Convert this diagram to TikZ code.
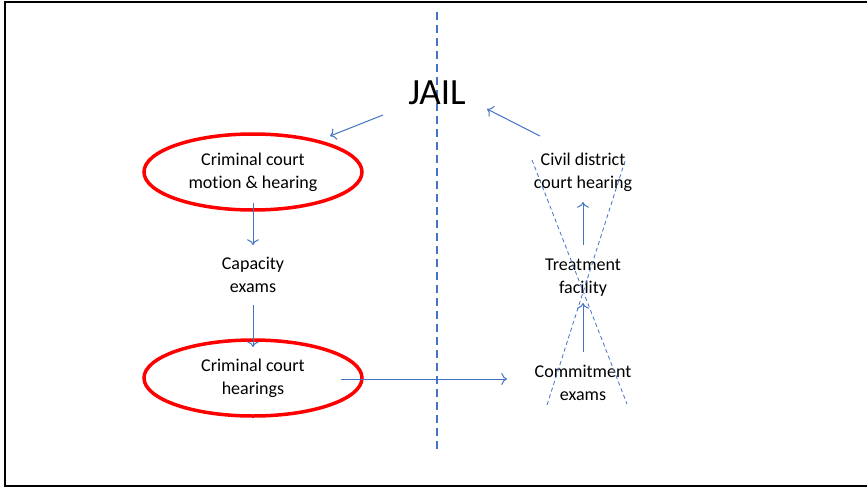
\documentclass[tikz,border=0pt]{standalone}
\usepackage{fontspec}
\setmainfont{Carlito}[Ligatures=NoCommon]
\usepackage{tikz}
\tikzset{x=1pt,y=-1pt}
\usetikzlibrary{arrows.meta, calc, shapes.geometric}
\definecolor{linkblue}{HTML}{4472C4}
\tikzset{
  step text/.style={align=center, inner sep=0pt, font=\fontsize{18}{23}\selectfont},
  court oval/.style={ellipse, draw=red, line width=3.5pt, minimum width=218, minimum height=76, inner sep=0pt},
  flow/.style={linkblue, line width=1pt, -{To[scale=1.5]}},
}

\begin{document}
\begin{tikzpicture}
    \useasboundingbox (0,0) rectangle (867,490);
    % frame
    \draw[line width=2.5pt] (867,2) -- (5,2) -- (5,486) -- (867,486);
    % divider
    \coordinate (top) at (437,12);
    \coordinate (bottom) at (437,450);
    \draw[linkblue, line width=2pt, dash pattern=on 8pt off 5pt] (top) -- (bottom);
    % jail
    \node (jail) at (437,93) {\fontsize{37}{40}\selectfont JAIL};
    % left column
    \node[court oval, step text] (motion) at (253,172) {Criminal court\\motion \& hearing};
    \node[step text] (capacity) at (253,275) {Capacity\\exams};
    \node[court oval, step text] (hearings) at (253,378) {Criminal court\\hearings};
    % right column
    \node[step text] (civil) at (583,172) {Civil district\\court hearing};
    \node[step text] (treatment) at (583,278) {Treatment\\facility};
    \node[step text] (commit) at (583,383) {Commitment\\exams};
    % crossed out
    \coordinate (xa) at (532,160);
    \coordinate (xb) at (627,404);
    \coordinate (xc) at (625,161);
    \coordinate (xd) at (547,405);
    \draw[linkblue, line width=0.8pt, dash pattern=on 4pt off 3pt] (xa) -- (xb);
    \draw[linkblue, line width=0.8pt, dash pattern=on 4pt off 3pt] (xc) -- (xd);
    % arrows
    \draw[flow] ($(jail)+(-54,22)$) -- ($(motion)+(77,-36)$);
    \draw[flow] ($(civil)+(-43,-36)$) -- ($(jail)+(50,16)$);
    \draw[flow] ($(motion)+(0,31)$) -- ($(capacity)+(0,-30)$);
    \draw[flow] ($(capacity)+(0,30)$) -- ($(hearings)+(0,-31)$);
    \draw[flow] ($(hearings)+(88,1)$) -- ($(commit)+(-76,-4)$);
    \draw[flow] ($(commit)+(0,-31)$) -- ($(treatment)+(0,25)$);
    \draw[flow] ($(treatment)+(0,-33)$) -- ($(civil)+(0,30)$);
\end{tikzpicture}
\end{document}
